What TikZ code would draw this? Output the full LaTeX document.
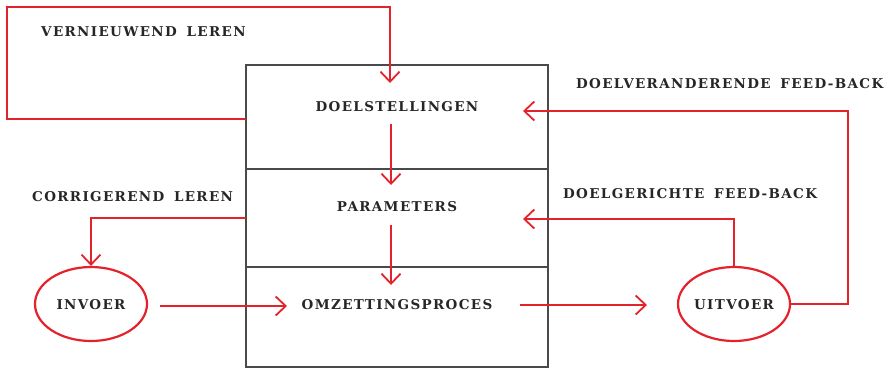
\documentclass[tikz,border=0pt]{standalone}
\usepackage{fontspec}
\newfontfamily\lblfont[LetterSpace=10,WordSpace=1.6]{DejaVu Serif}
\usetikzlibrary{arrows.meta,shapes.geometric}
\definecolor{rd}{HTML}{E4222B}
\definecolor{ink}{HTML}{262626}
\definecolor{boxc}{HTML}{4A4A4A}
\begin{document}
\begin{tikzpicture}[x=1pt,y=-1pt,
  lbl/.style={font=\lblfont\bfseries\fontsize{13.5}{16}\selectfont, text=ink, inner sep=0pt},
  flow/.style={draw=rd, line width=1.8pt, -{Straight Barb[length=10pt,width=19pt,line width=1.8pt]}},
  oval/.style={ellipse, draw=rd, line width=2.2pt, minimum width=112pt, minimum height=74pt, inner sep=0pt},
  boxline/.style={draw=boxc, line width=1.2pt}]
\useasboundingbox (0,0) rectangle (891,368);
% box
\draw[boxline] (246,65) rectangle (548,367);
\draw[boxline] (246,169) -- (548,169);
\draw[boxline] (246,267) -- (548,267);
% texts in box
\node[lbl] (doel) at (397,107) {DOELSTELLINGEN};
\node[lbl] (par) at (397,207) {PARAMETERS};
\node[lbl] (omz) at (397,305) {OMZETTINGSPROCES};
% ovals
\node[oval] (in) at (91,304) {};
\node[lbl] (inT) at (91,305) {INVOER};
\node[oval] (uit) at (734,304) {};
\node[lbl] (uitT) at (734,305) {UITVOER};
% labels
\node[lbl, anchor=west] (vl) at (41,32) {VERNIEUWEND LEREN};
\node[lbl, anchor=west] (cl) at (32,197) {CORRIGEREND LEREN};
\node[lbl, anchor=west] (dv) at (576,84) {DOELVERANDERENDE FEED-BACK};
\node[lbl, anchor=west] (dg) at (563,194) {DOELGERICHTE FEED-BACK};
% coordinates
\coordinate (boxL1) at (246,119);
\coordinate (tipD) at (390,83);
\coordinate (boxL2) at (246,218);
\coordinate (dpS) at (391,124);
\coordinate (dpE) at (391,185);
\coordinate (poS) at (391,225);
\coordinate (poE) at (391,285);
\coordinate (ioS) at (160,306);
\coordinate (ioE) at (287,306);
\coordinate (ouS) at (520,305);
\coordinate (ouE) at (647,305);
\coordinate (tipP) at (523,219);
\coordinate (tipT) at (523,111);
% arrows
\draw[flow] (boxL1) -- (7,119) -- (7,7) -- (390,7) -- (tipD);
\draw[flow] (dpS) -- (dpE);
\draw[flow] (poS) -- (poE);
\draw[flow] (boxL2) -- (91,218) -- (in.north);
\draw[flow] (ioS) -- (ioE);
\draw[flow] (ouS) -- (ouE);
\draw[flow] (uit.north) |- (tipP);
\draw[flow] (uit.east) -- (848,304) |- (tipT);
\end{tikzpicture}
\end{document}
